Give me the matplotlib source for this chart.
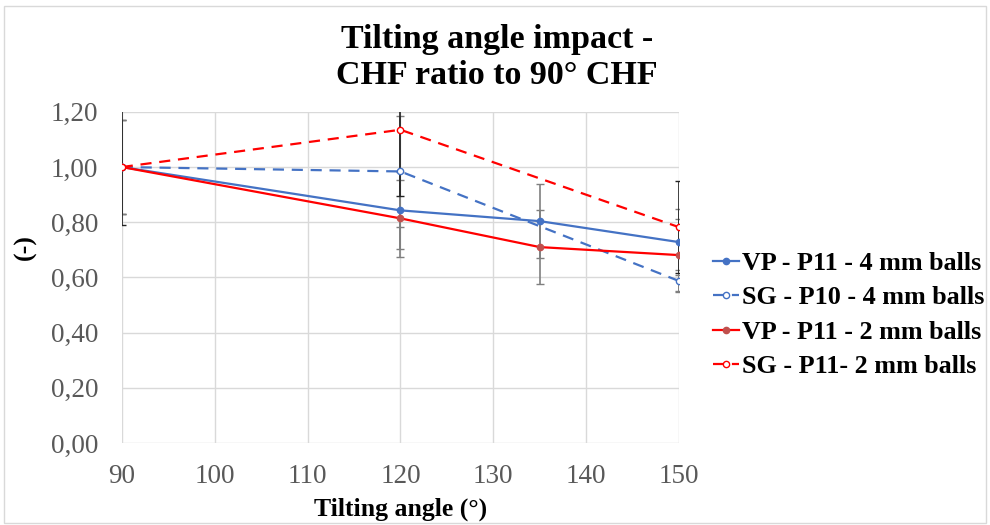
from matplotlib import pyplot as plt
from matplotlib.patches import Rectangle
from matplotlib.ticker import FuncFormatter

plt.rc('font', family=['Liberation Serif', 'DejaVu Serif'], size=15)

angles = [90, 120, 135, 150]
angles_sg = [90, 120, 150]

vp_4mm = [1.00, 0.843, 0.804, 0.728]
vp_4mm_err = [0.17, 0.14, 0.135, 0.12]
sg_4mm = [1.00, 0.984, 0.587]
sg_4mm_err = [0.17, 0.20, 0.04]
vp_2mm = [1.00, 0.814, 0.710, 0.681]
vp_2mm_err = [0.17, 0.14, 0.135, 0.13]
sg_2mm = [1.00, 1.135, 0.782]
sg_2mm_err = [0.21, 0.24, 0.166]

labels = ["VP - P11 - 4 mm balls", "SG - P10 - 4 mm balls",
          "VP - P11 - 2 mm balls", "SG - P11- 2 mm balls"]

blue = '#4472C4'
red = '#FF0000'

fig = plt.figure(figsize=(9.9, 5.25), dpi=100)
ax = fig.add_axes([0.123, 0.156, 0.563, 0.631])

# error bars first, lines on top
ax.errorbar(angles, vp_4mm, yerr=vp_4mm_err, fmt='none', ecolor='#7F7F7F',
            elinewidth=1.2, capsize=3, zorder=2)
ax.errorbar(angles, vp_2mm, yerr=vp_2mm_err, fmt='none', ecolor='#7F7F7F',
            elinewidth=1.2, capsize=3, zorder=2)
ax.errorbar(angles_sg, sg_4mm, yerr=sg_4mm_err, fmt='none', ecolor='#7F7F7F',
            elinewidth=1.2, capsize=3, zorder=2)
ax.errorbar(angles_sg, sg_2mm, yerr=sg_2mm_err, fmt='none', ecolor='#222222',
            elinewidth=1.2, capsize=3, zorder=2)

dash = (0, (5, 3.5))
ax.plot(angles, vp_4mm, color=blue, lw=1.6, marker='o', ms=4.5,
        mfc=blue, mec=blue, label=labels[0], zorder=3)
ax.plot(angles_sg, sg_4mm, color=blue, lw=1.6, ls=dash, marker='o', ms=4.5,
        mfc='white', mec=blue, label=labels[1], zorder=3)
ax.plot(angles, vp_2mm, color=red, lw=1.6, marker='o', ms=4.5,
        mfc='#C0504D', mec='#C0504D', label=labels[2], zorder=3)
ax.plot(angles_sg, sg_2mm, color=red, lw=1.6, ls=dash, marker='o', ms=4.5,
        mfc='white', mec=red, label=labels[3], zorder=3)

ax.set_xlim(90, 150)
ax.set_ylim(0, 1.2)
ax.set_xticks(range(90, 151, 10))
ax.set_yticks([0, 0.2, 0.4, 0.6, 0.8, 1.0, 1.2])
ax.yaxis.set_major_formatter(FuncFormatter(lambda v, p: f"{v:.2f}".replace('.', ',')))
ax.tick_params(length=0, labelsize=19.5, colors='#595959')
ax.tick_params(axis='y', pad=17)
ax.tick_params(axis='x', pad=15)
ax.grid(True, color='#D9D9D9', lw=1)
ax.set_axisbelow(True)
for s in ax.spines.values():
    s.set_visible(False)

ax.set_xlabel('Tilting angle (°)', fontsize=18.5, fontweight='bold', labelpad=6)
fig.text(0.026, 0.53, '(-)', rotation=90, fontsize=18.5, fontweight='bold',
         ha='center', va='center')

fig.text(0.502, 0.89, 'Tilting angle impact -\nCHF ratio to 90° CHF',
         ha='center', va='center', fontsize=24.5, fontweight='bold',
         linespacing=1.2)

leg = ax.legend(loc='center left', bbox_to_anchor=(1.061, 0.387), frameon=False,
                prop={'weight': 'bold', 'size': 18.8}, handlelength=1.0,
                handletextpad=0.12, labelspacing=0.42, borderaxespad=0,
                borderpad=0)

fig.patches.append(Rectangle((0.004, 0.004), 0.992, 0.985, transform=fig.transFigure,
                             fill=False, edgecolor='#D9D9D9', lw=1))

plt.savefig('out.png', dpi=100)
